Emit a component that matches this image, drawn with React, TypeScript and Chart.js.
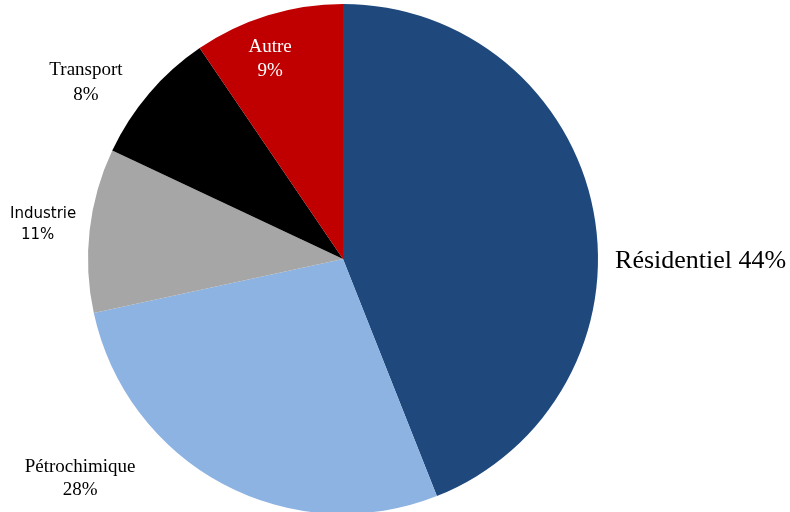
import React, { useEffect, useRef } from "react";
import { Chart, registerables } from "chart.js";

Chart.register(...registerables);

const categories = ["Résidentiel", "Pétrochimique", "Industrie", "Transport", "Autre"];
// slice sizes (labels show the rounded values)
const shares = [44.0, 27.6, 10.4, 8.5, 9.5];
const shareLabels = ["44%", "28%", "11%", "8%", "9%"];
const colors = ["#1F497D", "#8DB3E2", "#A6A6A6", "#000000", "#C00000"];

// label layout (relative to pie centre, in units of radius) and style
type LabelSpec = {
  lines: { kind: "name" | "value" | "both"; fx: number; fy: number; align: CanvasTextAlign }[];
  font: string;
  color: string;
};
const labelSpecs: LabelSpec[] = [
  {
    lines: [{ kind: "both", fx: 1.067, fy: 0.035, align: "left" }],
    font: "26px 'Liberation Serif', 'Times New Roman', serif",
    color: "#000000",
  },
  {
    lines: [
      { kind: "name", fx: -1.031, fy: 0.835, align: "center" },
      { kind: "value", fx: -1.031, fy: 0.925, align: "center" },
    ],
    font: "19px 'Liberation Serif', 'Times New Roman', serif",
    color: "#000000",
  },
  {
    lines: [
      { kind: "name", fx: -1.306, fy: -0.161, align: "left" },
      { kind: "value", fx: -1.263, fy: -0.078, align: "left" },
    ],
    font: "15px 'DejaVu Sans', sans-serif",
    color: "#000000",
  },
  {
    lines: [
      { kind: "name", fx: -1.008, fy: -0.722, align: "center" },
      { kind: "value", fx: -1.008, fy: -0.624, align: "center" },
    ],
    font: "19px 'Liberation Serif', 'Times New Roman', serif",
    color: "#000000",
  },
  {
    lines: [
      { kind: "name", fx: -0.286, fy: -0.812, align: "center" },
      { kind: "value", fx: -0.286, fy: -0.718, align: "center" },
    ],
    font: "19px 'Liberation Serif', 'Times New Roman', serif",
    color: "#FFFFFF",
  },
];

const labelPlugin = {
  id: "sliceLabels",
  afterDatasetsDraw(chart: any) {
    const meta = chart.getDatasetMeta(0);
    const ctx = chart.ctx;
    ctx.save();
    ctx.textBaseline = "alphabetic";
    meta.data.forEach((arc: any, i: number) => {
      const spec = labelSpecs[i];
      if (!spec) return;
      const { x, y, outerRadius } = arc.getProps(["x", "y", "outerRadius"], true);
      ctx.font = spec.font;
      ctx.fillStyle = spec.color;
      spec.lines.forEach((ln) => {
        const text =
          ln.kind === "name"
            ? categories[i]
            : ln.kind === "value"
            ? shareLabels[i]
            : categories[i] + " " + shareLabels[i];
        ctx.textAlign = ln.align;
        ctx.fillText(text, x + ln.fx * outerRadius, y + ln.fy * outerRadius);
      });
    });
    ctx.restore();
  },
};

export default function App() {
  const ref = useRef<HTMLCanvasElement>(null);
  useEffect(() => {
    if (!ref.current) return;
    const chart = new Chart(ref.current, {
      type: "pie",
      data: {
        labels: categories,
        datasets: [
          {
            data: shares,
            backgroundColor: colors,
            borderWidth: 0,
          },
        ],
      },
      options: {
        responsive: false,
        animation: false,
        layout: { padding: { left: 88, right: 192, top: 4, bottom: 2 } },
        plugins: {
          legend: { display: false },
          tooltip: { enabled: false },
          title: { display: false },
        },
      },
      plugins: [labelPlugin],
    });
    return () => chart.destroy();
  }, []);
  return (
    <div
      style={{
        position: "fixed",
        left: 0,
        top: 0,
        width: 790,
        height: 512,
        overflow: "hidden",
        background: "#ffffff",
      }}
    >
      <canvas ref={ref} width={790} height={516} style={{ display: "block" }} />
    </div>
  );
}
